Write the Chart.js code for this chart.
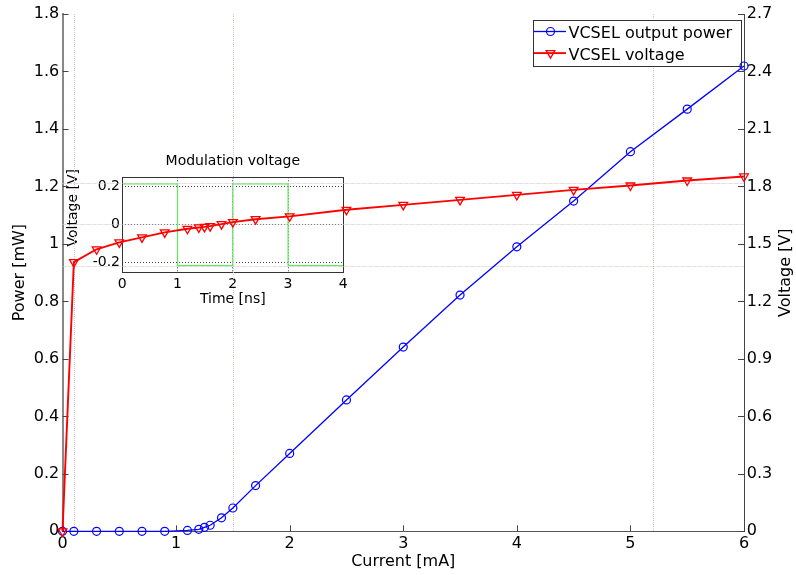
<!DOCTYPE html>
<html>
<head>
<meta charset="utf-8">
<script src="https://cdn.jsdelivr.net/npm/chart.js@4.4.1/dist/chart.umd.min.js"></script>
<style>
  html, body { margin: 0; padding: 0; background: #fff; overflow: hidden; }
  #wrap { position: relative; width: 796px; height: 575px; }
  #inset { position: absolute; left: 50px; top: 145px; z-index: 1; }
  #grafico { position: absolute; left: 0; top: 0; z-index: 2; }
</style>
</head>
<body>
<div id="wrap">
  <canvas id="inset" width="310" height="165"></canvas>
  <canvas id="grafico" width="796" height="575"></canvas>
</div>
<script>
// main plot data
const current = [0, 0.1, 0.3, 0.5, 0.7, 0.9, 1.1, 1.2, 1.25, 1.3, 1.4, 1.5, 1.7, 2, 2.5, 3, 3.5, 4, 4.5, 5, 5.5, 6];
const power = [0, 0, 0, 0, 0, 0, 0.003, 0.007, 0.014, 0.021, 0.047, 0.081, 0.159, 0.271, 0.457, 0.641, 0.822, 0.99, 1.149, 1.321, 1.469, 1.619];
const voltage = [0, 1.405, 1.472, 1.508, 1.534, 1.56, 1.579, 1.586, 1.589, 1.593, 1.603, 1.614, 1.629, 1.644, 1.678, 1.704, 1.73, 1.756, 1.782, 1.805, 1.831, 1.852];

const currentTicks = [0, 1, 2, 3, 4, 5, 6];
const powerTicks = [0, 0.2, 0.4, 0.6, 0.8, 1, 1.2, 1.4, 1.6, 1.8];
const voltageTicks = [0, 0.3, 0.6, 0.9, 1.2, 1.5, 1.8, 2.1, 2.4, 2.7];

// dotted guide lines
const guideCurrents = [0.1, 1.5, 5.2];
const guideVoltages = [1.383, 1.602, 1.816];

// inset data
const modTime = [0, 1, 1, 2, 2, 3, 3, 4];
const modVoltage = [0.215, 0.215, -0.215, -0.215, 0.215, 0.215, -0.215, -0.215];
const timeTicks = [0, 1, 2, 3, 4];
const modTicks = [-0.2, 0, 0.2];

Chart.defaults.font.family = "'DejaVu Sans', sans-serif";
Chart.defaults.color = '#000';

const fmt = v => String(Math.round(v * 100) / 100);
const setTicks = list => scale => { scale.ticks = list.map(v => ({ value: v })); };

function drawMarker(ctx, style, x, y, r) {
  ctx.beginPath();
  if (style === 'circle') {
    ctx.arc(x, y, r, 0, Math.PI * 2);
  } else {
    ctx.moveTo(x, y + r);
    ctx.lineTo(x - r * 0.866, y - r / 2);
    ctx.lineTo(x + r * 0.866, y - r / 2);
    ctx.closePath();
  }
  ctx.stroke();
}

function vText(ctx, text, x, y, size) {
  ctx.save();
  ctx.translate(x, y);
  ctx.rotate(-Math.PI / 2);
  ctx.font = size + "px 'DejaVu Sans'";
  ctx.fillStyle = '#000';
  ctx.textAlign = 'center';
  ctx.textBaseline = 'middle';
  ctx.fillText(text, 0, 0);
  ctx.restore();
}

const guides = {
  id: 'guides',
  beforeDatasetsDraw(chart) {
    const { ctx, chartArea: a, scales } = chart;
    const cores = ['#f2b3d2', '#aebcf2', '#dce6a0'];
    ctx.save();
    ctx.lineWidth = 1;
    ctx.setLineDash([1, 5]);
    cores.forEach((cor, k) => {
      ctx.strokeStyle = cor;
      ctx.lineDashOffset = -2 * k;
      ctx.beginPath();
      guideCurrents.forEach(c => {
        const x = Math.round(scales.x.getPixelForValue(c)) + 0.5;
        ctx.moveTo(x, a.top);
        ctx.lineTo(x, a.bottom);
      });
      guideVoltages.forEach(v => {
        const y = Math.round(scales.yV.getPixelForValue(v)) + 0.5;
        ctx.moveTo(a.left, y);
        ctx.lineTo(a.right, y);
      });
      ctx.stroke();
    });
    ctx.restore();
  }
};

const legendBox = {
  id: 'legendBox',
  beforeDatasetsDraw(chart) {
    const { ctx, chartArea: a } = chart;
    const w = 208, h = 46;
    const left = Math.round(a.right - 3.5 - w), top = Math.round(a.top + 5.5);
    ctx.save();
    ctx.fillStyle = '#fff';
    ctx.fillRect(left, top, w, h);
    ctx.strokeStyle = '#333';
    ctx.lineWidth = 1;
    ctx.strokeRect(left + 0.5, top + 0.5, w, h);
    ctx.font = "16px 'DejaVu Sans'";
    ctx.textBaseline = 'middle';
    chart.data.datasets.forEach((ds, i) => {
      const y = top + 11.5 + i * 21.6;
      ctx.strokeStyle = ds.borderColor;
      ctx.lineWidth = ds.borderWidth;
      ctx.beginPath();
      ctx.moveTo(left + 1, y);
      ctx.lineTo(left + 33, y);
      ctx.stroke();
      ctx.lineWidth = ds.pointBorderWidth;
      drawMarker(ctx, ds.pointStyle, left + 17.5, y, ds.pointRadius);
      ctx.fillStyle = '#000';
      ctx.fillText(ds.label, left + 35.5, y + 2.3);
    });
    ctx.restore();
  }
};

const inwardTicks = {
  id: 'inwardTicks',
  beforeDatasetsDraw(chart) {
    const { ctx, chartArea: a, scales } = chart;
    ctx.save();
    ctx.strokeStyle = '#444';
    ctx.lineWidth = 1;
    ctx.beginPath();
    scales.x.ticks.forEach(t => {
      const x = Math.round(scales.x.getPixelForValue(t.value)) + 0.5;
      ctx.moveTo(x, a.bottom);
      ctx.lineTo(x, a.bottom - 6);
    });
    scales.yP.ticks.forEach(t => {
      const y = Math.round(scales.yP.getPixelForValue(t.value)) + 0.5;
      ctx.moveTo(a.left, y);
      ctx.lineTo(a.left + 6, y);
    });
    scales.yV.ticks.forEach(t => {
      const y = Math.round(scales.yV.getPixelForValue(t.value)) + 0.5;
      ctx.moveTo(a.right, y);
      ctx.lineTo(a.right - 6, y);
    });
    ctx.stroke();
    ctx.restore();
  },
  afterDraw(chart) {
    // right axis title reads bottom-to-top like the left one
    const a = chart.chartArea;
    vText(chart.ctx, 'Voltage [V]', chart.width - 10.5, (a.top + a.bottom) / 2, 16);
  }
};

const noGrid = { display: true, drawOnChartArea: false, drawTicks: false };

new Chart(document.getElementById('grafico').getContext('2d'), {
  type: 'line',
  data: {
    datasets: [
      {
        label: 'VCSEL output power',
        data: current.map((c, i) => ({ x: c, y: power[i] })),
        yAxisID: 'yP',
        borderColor: '#0000ff',
        borderWidth: 1.3,
        pointStyle: 'circle',
        pointRadius: 4,
        pointBorderWidth: 1.2,
        pointBorderColor: '#0000ff',
        pointBackgroundColor: 'rgba(0,0,0,0)',
        tension: 0,
        clip: false,
        order: 1
      },
      {
        label: 'VCSEL voltage',
        data: current.map((c, i) => ({ x: c, y: voltage[i] })),
        yAxisID: 'yV',
        borderColor: '#ff0000',
        borderWidth: 1.9,
        pointStyle: 'triangle',
        pointRotation: 180,
        pointRadius: 5,
        pointBorderWidth: 1.3,
        pointBorderColor: '#ff0000',
        pointBackgroundColor: 'rgba(0,0,0,0)',
        tension: 0,
        clip: false,
        order: 0
      }
    ]
  },
  options: {
    responsive: false,
    animation: false,
    devicePixelRatio: 1,
    layout: { padding: { top: 14, left: 0, right: 0, bottom: 0 } },
    plugins: { legend: { display: false }, tooltip: { enabled: false } },
    scales: {
      x: {
        type: 'linear', position: 'bottom', min: 0, max: 6,
        afterBuildTicks: setTicks(currentTicks),
        afterFit: s => { s.height = 43.7; },
        grid: noGrid,
        border: { color: '#555', width: 1 },
        ticks: { padding: 3, font: { size: 16 }, callback: fmt, maxRotation: 0, autoSkip: false },
        title: { display: true, text: 'Current [mA]', font: { size: 16 }, padding: { top: 0, bottom: 3.4 } }
      },
      yP: {
        type: 'linear', position: 'left', min: 0, max: 1.8,
        afterBuildTicks: setTicks(powerTicks),
        afterFit: s => { s.width = 62.5; },
        grid: noGrid,
        border: { color: '#888', width: 2 },
        ticks: { padding: 3.2, font: { size: 16 }, callback: fmt, autoSkip: false },
        title: { display: true, text: 'Power [mW]', font: { size: 16 }, padding: { top: 10.4, bottom: 0 } }
      },
      yV: {
        type: 'linear', position: 'right', min: 0, max: 2.7,
        afterBuildTicks: setTicks(voltageTicks),
        afterFit: s => { s.width = 52; },
        grid: noGrid,
        border: { color: '#444', width: 1 },
        ticks: { padding: 2.7, font: { size: 16 }, callback: fmt, autoSkip: false }
      }
    }
  },
  plugins: [guides, legendBox, inwardTicks]
});

// inset: box and rotated y label
const insetFrame = {
  id: 'insetFrame',
  afterDatasetsDraw(chart) {
    const { ctx, chartArea: a } = chart;
    ctx.save();
    ctx.strokeStyle = '#333';
    ctx.lineWidth = 1;
    ctx.strokeRect(Math.round(a.left) + 0.5, Math.round(a.top) + 0.5, Math.round(a.right - a.left), Math.round(a.bottom - a.top));
    ctx.restore();
    vText(ctx, 'Voltage [V]', a.left - 49.3, a.top + 30.4, 14);
  }
};

const insetGrid = { display: true, color: '#444', drawTicks: false };

new Chart(document.getElementById('inset').getContext('2d'), {
  type: 'line',
  data: {
    datasets: [{
      data: modTime.map((t, i) => ({ x: t, y: modVoltage[i] })),
      borderColor: '#5cf05c',
      borderWidth: 1.2,
      pointRadius: 0,
      tension: 0,
      clip: false
    }]
  },
  options: {
    responsive: false,
    animation: false,
    devicePixelRatio: 1,
    layout: { padding: { top: 0, left: 0, right: 16.7, bottom: 0 } },
    plugins: {
      legend: { display: false },
      tooltip: { enabled: false },
      title: {
        display: true, fullSize: false, text: 'Modulation voltage',
        font: { size: 14, weight: 'normal' },
        padding: { top: 8.3, bottom: 7.2 }
      }
    },
    scales: {
      x: {
        type: 'linear', min: 0, max: 4,
        afterBuildTicks: setTicks(timeTicks),
        afterFit: s => { s.height = 37.7; },
        grid: insetGrid,
        border: { display: false, dash: [1, 2] },
        ticks: { padding: 3.3, font: { size: 14 }, callback: fmt, maxRotation: 0, autoSkip: false },
        title: { display: true, text: 'Time [ns]', font: { size: 14 }, padding: { top: 0, bottom: 2.6 } }
      },
      y: {
        type: 'linear', min: -0.25, max: 0.25,
        afterBuildTicks: setTicks(modTicks),
        afterFit: s => { s.width = 72.3; },
        grid: insetGrid,
        border: { display: false, dash: [1, 2] },
        ticks: { padding: 2.3, font: { size: 14 }, callback: fmt, autoSkip: false }
      }
    }
  },
  plugins: [insetFrame]
});
</script>
</body>
</html>
